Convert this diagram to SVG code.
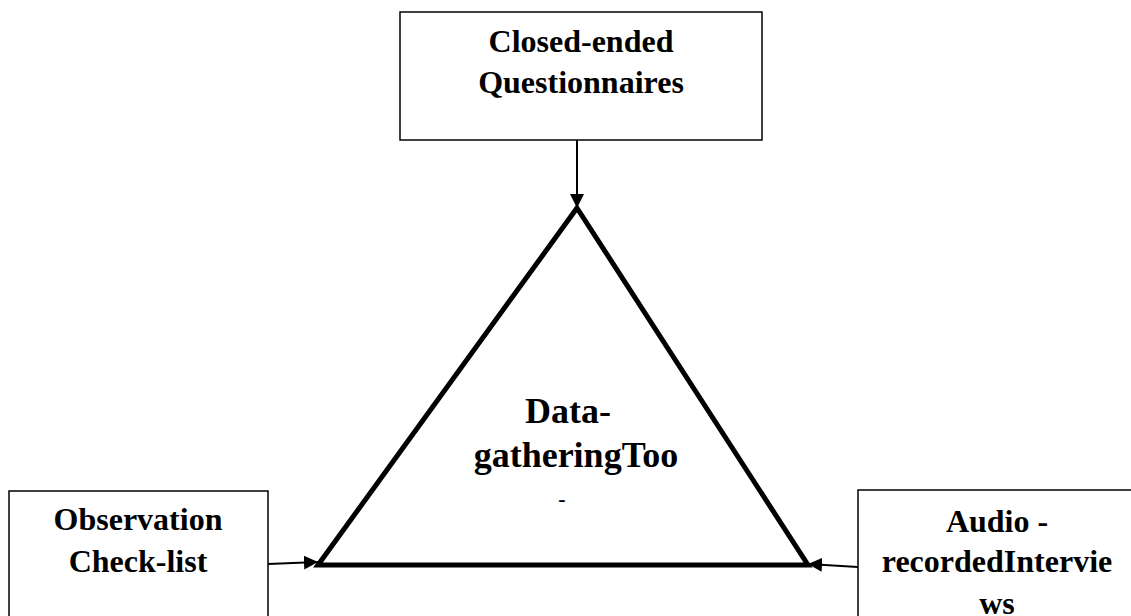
<svg xmlns="http://www.w3.org/2000/svg" width="1131" height="616" viewBox="0 0 1131 616">
  <style>
    .box { fill: #ffffff; stroke: #000000; stroke-width: 1.5; }
    .lbl { font-family: "Liberation Serif", "Times New Roman", serif; font-weight: bold; font-size: 32px; fill: #000000; text-anchor: middle; }
    .core { font-family: "Liberation Serif", "Times New Roman", serif; font-weight: bold; font-size: 36px; fill: #000000; text-anchor: middle; }
    .link { stroke: #000000; stroke-width: 2; fill: none; marker-end: url(#head); }
  </style>
  <defs>
    <marker id="head" viewBox="0 0 14 14" refX="14" refY="7" markerWidth="14" markerHeight="14" markerUnits="userSpaceOnUse" orient="auto">
      <path d="M0,0 L14,7 L0,14 Z" fill="#000000"/>
    </marker>
  </defs>
  <rect width="1131" height="616" fill="#ffffff"/>

  <g id="questionnaires">
    <rect class="box" x="400" y="12" width="362" height="128"/>
    <text class="lbl" x="581" y="52">Closed-ended</text>
    <text class="lbl" x="581" y="93">Questionnaires</text>
  </g>

  <g id="tools">
    <polygon points="577,208 808,565 318,565" fill="none" stroke="#000000" stroke-width="5" stroke-linejoin="miter"/>
    <text class="core" x="568" y="423">Data-</text>
    <text class="core" x="576" y="467">gatheringToo</text>
    <text class="core" x="562" y="506" style="font-size:22px">-</text>
  </g>

  <g id="observation">
    <rect class="box" x="9" y="491" width="259" height="140"/>
    <text class="lbl" x="138" y="530">Observation</text>
    <text class="lbl" x="138" y="572">Check-list</text>
  </g>

  <g id="interviews">
    <rect class="box" x="858" y="490" width="290" height="140"/>
    <text class="lbl" x="997" y="532">Audio -</text>
    <text class="lbl" x="997" y="572">recordedIntervie</text>
    <text class="lbl" x="997" y="614">ws</text>
  </g>

  <g id="connectors">
    <line class="link" x1="577" y1="140" x2="577" y2="208"/>
    <line class="link" x1="268" y1="564" x2="318" y2="562"/>
    <line class="link" x1="858" y1="567" x2="808" y2="564"/>
  </g>
</svg>
